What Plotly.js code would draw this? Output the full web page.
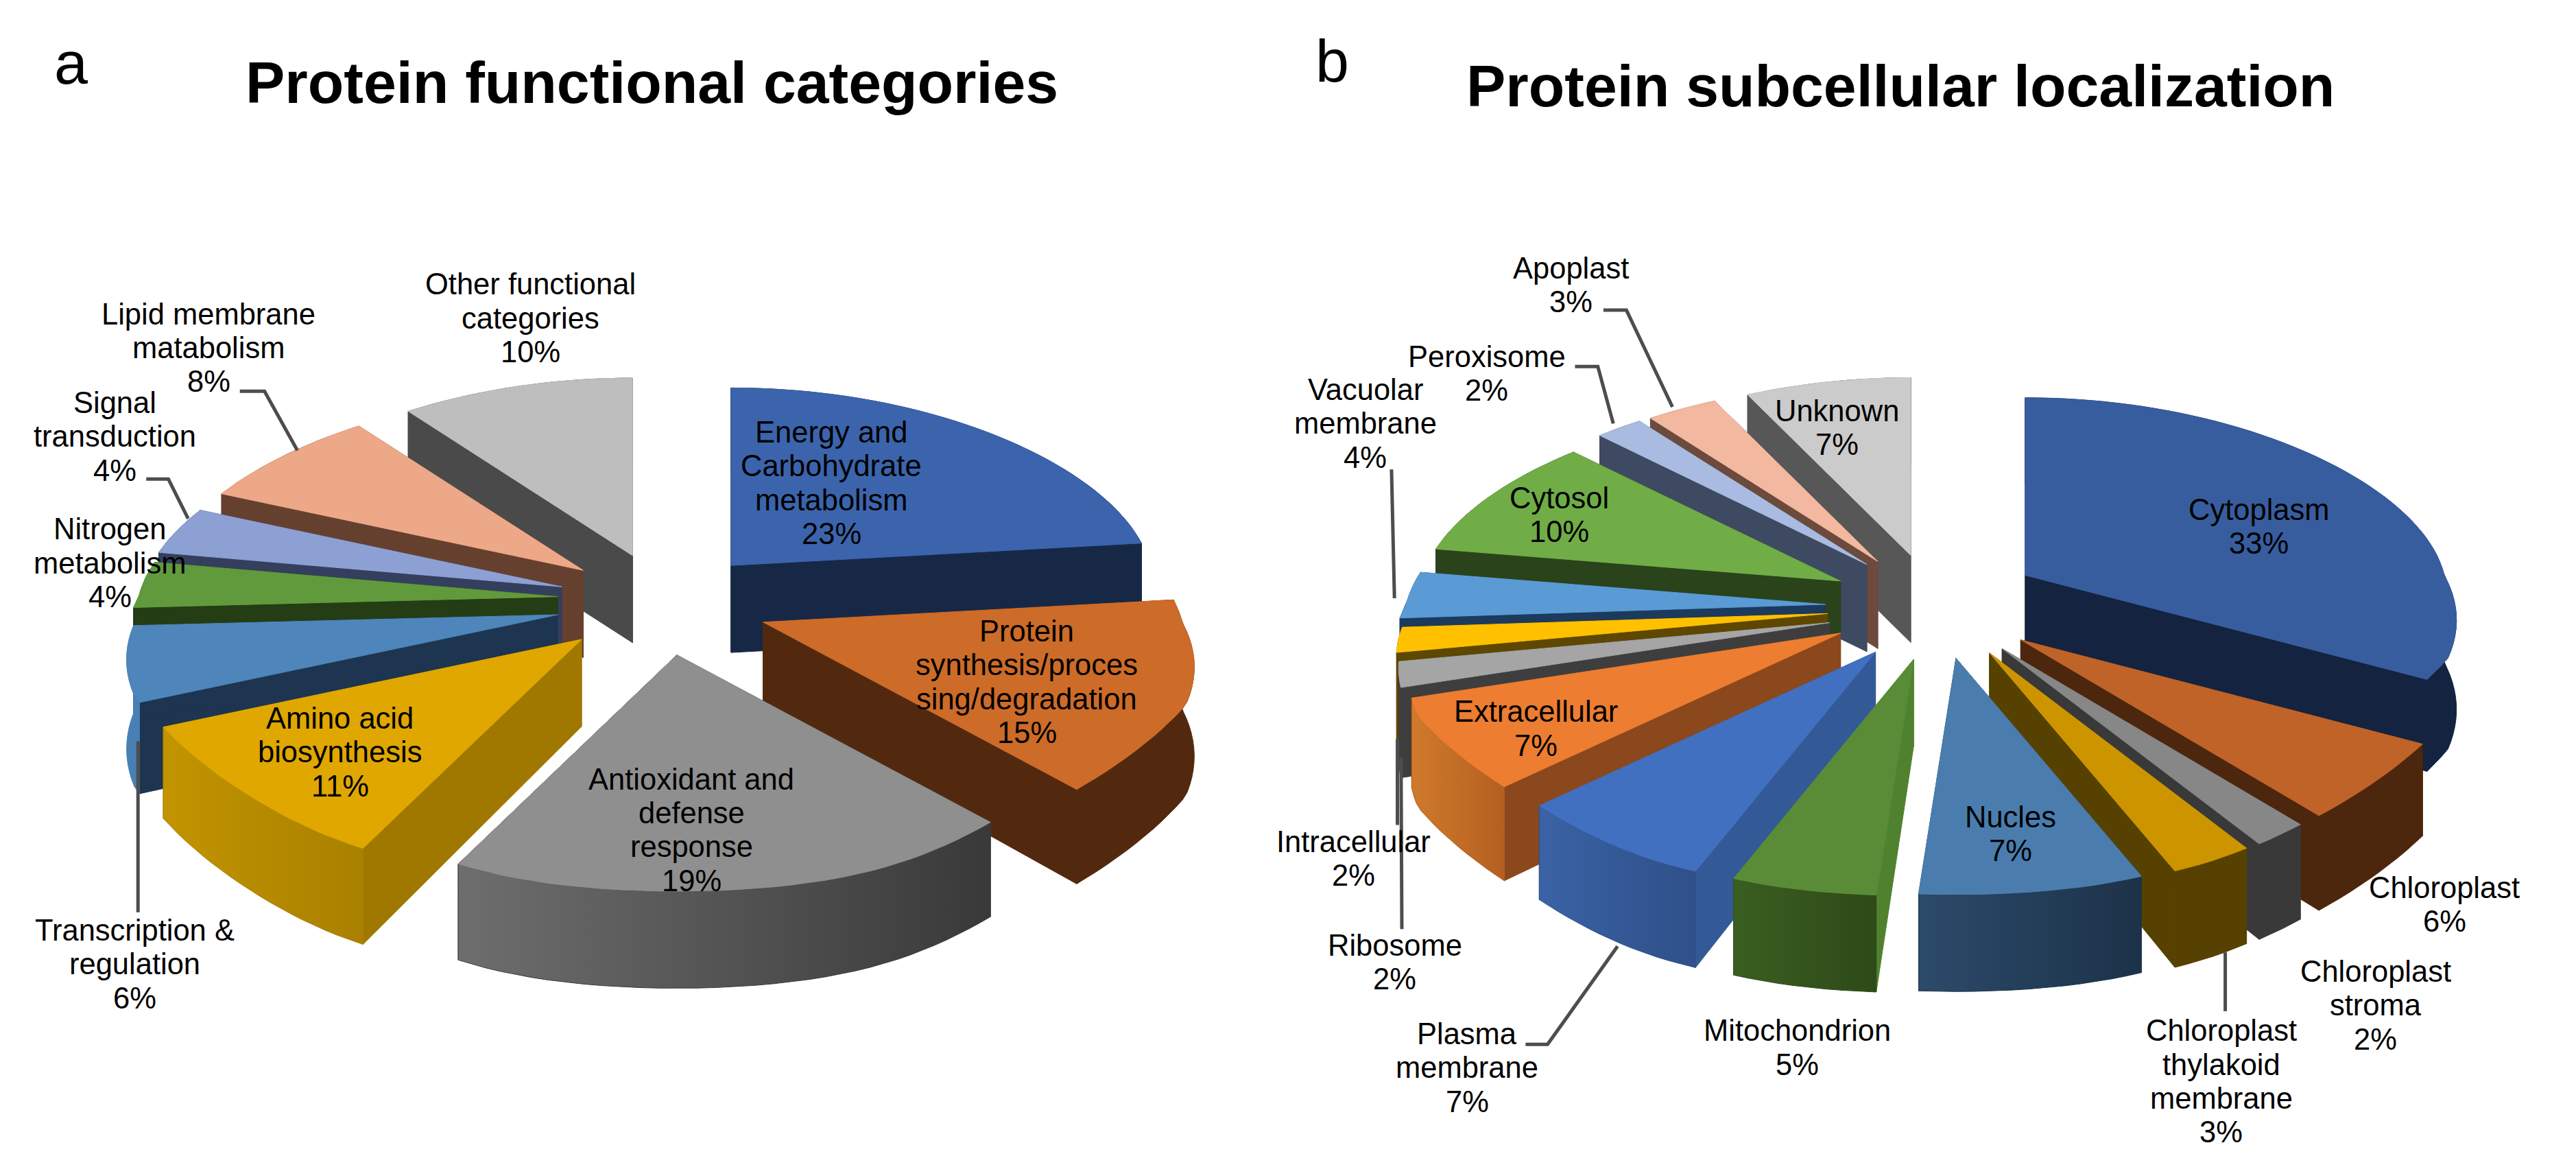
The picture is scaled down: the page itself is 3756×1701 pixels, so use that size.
<!DOCTYPE html>
<html><head><meta charset="utf-8">
<script src="https://cdn.plot.ly/plotly-3.0.1.min.js"></script>
<style>html,body{margin:0;padding:0;background:#fff}#chart{width:3756px;height:1701px}</style>
</head><body><div id="chart"></div>
<script>
// ---------- data ----------
const catA = ["Energy and Carbohydrate metabolism","Protein synthesis/processing/degradation","Antioxidant and defense response","Amino acid biosynthesis","Transcription & regulation","Nitrogen metabolism","Signal transduction","Lipid membrane matabolism","Other functional categories"];
const valA = [23,15.4,18.7,11,6,4,4,8,9.9];
const catB = ["Cytoplasm","Chloroplast","Chloroplast stroma","Chloroplast thylakoid membrane","Nucles","Mitochondrion","Plasma membrane","Extracellular","Intracellular","Ribosome","Vacuolar membrane","Cytosol","Peroxisome","Apoplast","Unknown"];
const valB = [33,6,2,3,6.8,4.5,7.2,7,2,2,4,10,2,3,7];

// ---------- explosion of each slice, relative to the pie centre ----------
const centerA = [360,360], centerB = [1140,370];
const pullAx = [85,104.5,52,-6,-20.5,-20.5,-18,-5,25];
const pullAy = [-16,18.5,38.5,29,14,3,-3,-13,-22];
const pullBx = [92.8,90,78.7,71,50.6,24.8,1.6,-19.7,-26.3,-27.6,-29,-19.7,-3.7,3,23];
const pullBy = [-20,19.3,24.7,27.3,30.5,31.2,26.7,15.2,8.8,3.3,-2.3,-16.5,-26.6,-28.4,-32.2];

// ---------- styles: top face, side wall, outer wall gradient (left, right) ----------
const topA  = ["#3B64AC","#CD6B28","#8F8F8F","#DFA700","#4E86BB","#619A3C","#8DA0D4","#EDA888","#BEBEBE"];
const sideA = ["#172847","#52290F","#3C3C3C","#A07800","#1D3550","#243D14","#343F5E","#66402F","#4A4A4A"];
const outLA = ["#172847","#52290F","#6E6E6E","#C29400","#4780B5","#243D14","#343F5E","#66402F","#4A4A4A"];
const outRA = ["#172847","#52290F","#393939","#A98000","#4780B5","#243D14","#343F5E","#66402F","#4A4A4A"];
const topB  = ["#375D9F","#C06328","#878787","#CC9500","#4A7DAE","#5A8C38","#4170C0","#EC7D31","#A5A5A5","#FFC000","#5B9BD5","#70AD47","#A9BBE0","#F2B8A0","#CBCBCB"];
const sideB = ["#14233F","#4C260D","#393939","#574100","#2A4766","#50812F","#335A97","#8B481C","#3E3E3E","#5E4700","#1C3A5C","#2A431A","#3E4A61","#6C4A3C","#575757"];
const outLB = ["#14233F","#4C260D","#393939","#574100","#2C4A6B","#3A5E20","#3A62A5","#D07A2C","#3E3E3E","#5E4700","#1C3A5C","#2A431A","#3E4A61","#6C4A3C","#575757"];
const outRB = ["#14233F","#4C260D","#393939","#574100","#1C3248","#2E4A18","#2F5089","#B45F21","#3E3E3E","#5E4700","#1C3A5C","#2A431A","#3E4A61","#6C4A3C","#575757"];

// ---------- labels: lines, centre x, first-line y ----------
const labelsA = [
 [["Energy and","Carbohydrate","metabolism","23%"],506,263],
 [["Protein","synthesis/proces","sing/degradation","15%"],625,384],
 [["Antioxidant and","defense","response","19%"],421,474],
 [["Amino acid","biosynthesis","11%"],207,437],
 [["Transcription &","regulation","6%"],82,566],
 [["Nitrogen","metabolism","4%"],67,322],
 [["Signal","transduction","4%"],70,245],
 [["Lipid membrane","matabolism","8%"],127,191],
 [["Other functional","categories","10%"],323,173]];
const labelsB = [
 [["Cytoplasm","33%"],1375,310],
 [["Chloroplast","6%"],1488,540],
 [["Chloroplast","stroma","2%"],1446,591],
 [["Chloroplast","thylakoid","membrane","3%"],1352,627],
 [["Nucles","7%"],1224,497],
 [["Mitochondrion","5%"],1094,627],
 [["Plasma","membrane","7%"],893,629],
 [["Extracellular","7%"],935,433],
 [["Intracellular","2%"],824,512],
 [["Ribosome","2%"],849,575],
 [["Vacuolar","membrane","4%"],831,237],
 [["Cytosol","10%"],949,303],
 [["Peroxisome","2%"],905,217],
 [["Apoplast","3%"],956,163],
 [["Unknown","7%"],1118,250]];
const leaders = [
 [[146,161,181],[238,238,274]],
 [[89,102.5,114.5],[291.5,291.5,315.5]],
 [[84,84],[451,555]],
 [[976,990,1018],[188.7,188.7,247.6]],
 [[958.7,972.6,982],[223,223,257.7]],
 [[847,848.8],[285.6,364]],
 [[850.6,850.6],[449.7,501.9]],
 [[852.8,853.3],[461,565.3]],
 [[928.6,942,984.6],[635.4,635.4,575.7]],
 [[1354.5,1354.5],[579.4,615.2]]];

// ---------- projection of the tilted pie ----------
const RX=255, RY_BACK=108, RY_FRONT=115, K_FRONT=0.25, K_SIDE=0.10, K_NEAR=0.25, K_BACK=0.10, DEPTH=53, DEPTH_FRONT=6;
const rad = d => d*Math.PI/180;
function rim(ax,ay,deg){
  const s=Math.sin(rad(deg)), c=Math.cos(rad(deg));
  const fx = c<0 ? 1+K_SIDE*Math.min(1,-c/0.4)+K_NEAR*Math.pow(-c,8) : 1-K_BACK*c;
  const fy = c<0 ? 1-K_FRONT*c : 1;
  const ry = c<0 ? RY_FRONT : RY_BACK;
  return [ax+RX*s*fx, ay-ry*c*fy];
}
const drop = deg => DEPTH+DEPTH_FRONT*Math.max(0,-Math.cos(rad(deg)));

function poly(pts,name,color,grad){
  const t={type:"scatter",mode:"lines",x:pts.map(p=>p[0]),y:pts.map(p=>p[1]),fill:"toself",
    line:{width:1,color:color},fillcolor:color,name:name,hoverinfo:"name",showlegend:false};
  if(grad) t.fillgradient={type:"horizontal",colorscale:[[0,grad[0]],[1,grad[1]]]};
  return t;
}
function pieTraces(cat,val,center,pullX,pullY,top,side,outL,outR){
  const total=val.reduce((a,b)=>a+b,0);
  let acc=0;
  const slices=val.map((v,i)=>{
    const a0=acc/total*360; acc+=v; const a1=acc/total*360;
    return {i,a0,a1,mid:(a0+a1)/2};
  });
  slices.sort((p,q)=>Math.cos(rad(q.mid))-Math.cos(rad(p.mid)));
  const out=[];
  slices.forEach(({i,a0,a1})=>{
    const ax=center[0]+pullX[i], ay=center[1]+pullY[i];
    const arc=[]; const n=Math.max(6,Math.ceil((a1-a0)/2));
    for(let j=0;j<=n;j++) arc.push(a0+(a1-a0)*j/n);
    const wall=deg=>{
      const r=rim(ax,ay,deg), d=drop(deg);
      return [[ax,ay],r,[r[0],r[1]+d],[ax,ay+DEPTH],[ax,ay]];
    };
    out.push(poly(wall(a0),cat[i],side[i]));
    out.push(poly(wall(a1),cat[i],side[i]));
    const upper=arc.map(d=>rim(ax,ay,d));
    const lower=arc.map(d=>{const r=rim(ax,ay,d);return [r[0],r[1]+drop(d)];}).reverse();
    const band=upper.concat(lower); band.push(upper[0]);
    out.push(poly(band,cat[i],outR[i],[outL[i],outR[i]]));
    const face=[[ax,ay]].concat(upper); face.push([ax,ay]);
    out.push(poly(face,cat[i],top[i]));
  });
  return out;
}

const traces = pieTraces(catA,valA,centerA,pullAx,pullAy,topA,sideA,outLA,outRA)
  .concat(pieTraces(catB,valB,centerB,pullBx,pullBy,topB,sideB,outLB,outRB));
leaders.forEach(l=>traces.push({type:"scatter",mode:"lines",x:l[0],y:l[1],
  line:{color:"#4d4d4d",width:5},hoverinfo:"skip",showlegend:false}));

// ---------- text ----------
const LINE=20.6;
const FONT="Liberation Sans, Arial, sans-serif";
const ann=[];
labelsA.concat(labelsB).forEach(([lines,x,y])=>lines.forEach((t,k)=>ann.push({
  text:t,x:x,y:y+k*LINE,xref:"x",yref:"y",xanchor:"center",yanchor:"middle",showarrow:false,
  font:{family:FONT,size:43.5,color:"#000"}})));
[["Protein functional categories",397,50],["Protein subcellular localization",1157,52]].forEach(([t,x,y])=>ann.push({
  text:"<b>"+t+"</b>",x,y,xref:"x",yref:"y",xanchor:"center",yanchor:"middle",showarrow:false,
  font:{family:FONT,size:86,color:"#000"}}));
[["a",43,38],["b",811,37]].forEach(([t,x,y])=>ann.push({
  text:t,x,y,xref:"x",yref:"y",xanchor:"center",yanchor:"middle",showarrow:false,
  font:{family:FONT,size:88,color:"#000"}}));

Plotly.newPlot("chart",traces,{
  width:3756,height:1701,margin:{l:0,r:0,t:0,b:0},
  paper_bgcolor:"#fff",plot_bgcolor:"#fff",showlegend:false,
  xaxis:{range:[0,1568],visible:false,fixedrange:true},
  yaxis:{range:[710,0],visible:false,fixedrange:true},
  annotations:ann
},{displayModeBar:false,staticPlot:true});
</script></body></html>
